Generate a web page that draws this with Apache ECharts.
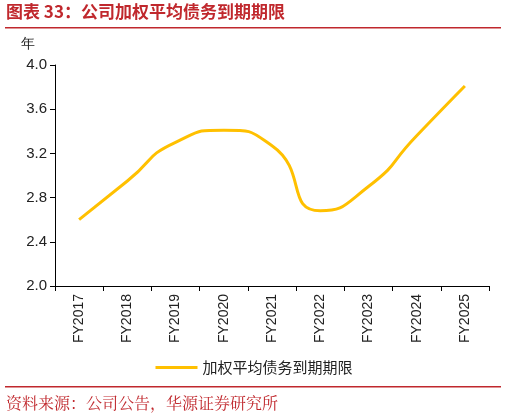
<!DOCTYPE html><html><head><meta charset="utf-8"><script src="https://cdn.jsdelivr.net/npm/echarts@6/dist/echarts.min.js"></script>
<style>body{margin:0}#c{width:508px;height:420px}</style></head><body><div id="c"></div><script>
const categories=['FY2017','FY2018','FY2019','FY2020','FY2021','FY2022','FY2023','FY2024','FY2025'];
const values=[2.6,2.95,3.3,3.41,3.27,2.68,2.9,3.36,3.81];
const seriesName='加权平均债务到期期限';
const red='#c0282d';
const c=echarts.init(document.getElementById('c'));
c.setOption({
animation:false,
graphic:[
{type:'text',left:6,top:3,style:{text:'图表 33：公司加权平均债务到期期限',fill:red,font:'bold 17px "Noto Sans CJK SC"'}},
{type:'rect',shape:{x:5,y:27,width:496,height:1.5},style:{fill:red}},
{type:'rect',shape:{x:5,y:386,width:496,height:1.5},style:{fill:red}},
{type:'text',left:6,top:395,style:{text:'资料来源：公司公告，华源证券研究所',fill:red,font:'16px "Noto Serif CJK SC", "Noto Sans CJK SC"'}}
],
legend:{bottom:40,left:'center',itemWidth:42,itemHeight:3,icon:'rect',textStyle:{fontSize:15,color:'#222',fontFamily:'Noto Sans CJK SC'},data:[seriesName]},
grid:{left:55,right:19,top:65,bottom:134},
xAxis:{type:'category',data:categories,boundaryGap:true,axisLine:{lineStyle:{color:'#000'}},axisTick:{show:true,lineStyle:{color:'#000'}},axisLabel:{rotate:90,color:'#222',fontSize:14,fontFamily:'Arial'}},
yAxis:{type:'value',min:2.0,max:4.0,interval:0.4,name:'年',nameLocation:'end',nameGap:14,nameTextStyle:{color:'#222',fontSize:14,align:'right',padding:[0,20,0,0]},
axisLine:{show:true,lineStyle:{color:'#000'}},axisTick:{show:true,lineStyle:{color:'#000'}},splitLine:{show:false},
axisLabel:{formatter:v=>v.toFixed(1),color:'#222',fontSize:15,fontFamily:'Arial'}},
series:[{name:seriesName,type:'line',data:values,smooth:0.6,symbol:'none',lineStyle:{color:'#FFC000',width:3},itemStyle:{color:'#FFC000'}}]
});
</script></body></html>
